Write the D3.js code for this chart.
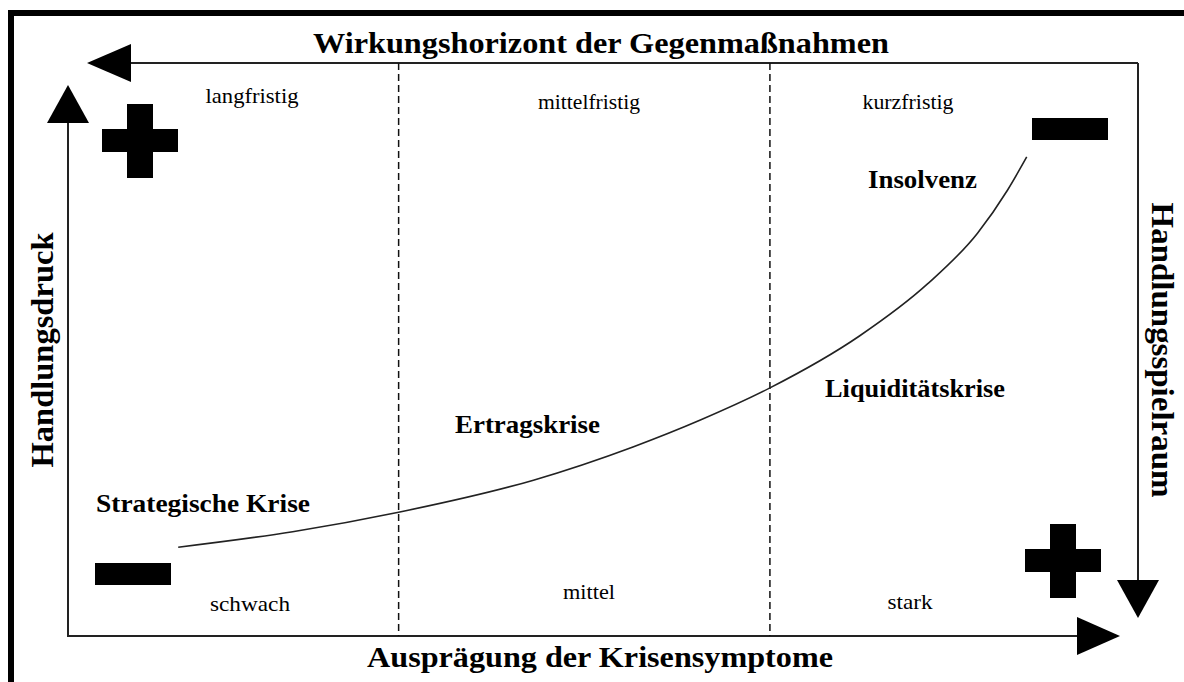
<!DOCTYPE html>
<html>
<head>
<meta charset="utf-8">
<script src="https://cdn.jsdelivr.net/npm/d3@7"></script>
<style>
	body { margin: 0; background: #fff; }
	svg { display: block; }
	text { font-family: "Liberation Serif", "DejaVu Serif", serif; fill: #000; }
	.big { font-weight: bold; }
</style>
</head>
<body>
<svg id="plot" width="1184" height="682"></svg>
<script>

// Krisenverlauf: Ausprägung der Krisensymptome (x) vs. Handlungsdruck (y), 0..100
const CURVE_X = [10.3, 21.0, 30.9, 43.5, 52.8, 59.1, 65.6, 74.0, 80.3, 85.0, 87.8, 89.6];
const CURVE_Y = [15.5, 18.2, 21.6, 27.2, 33.0, 37.7, 43.3, 52.4, 61.4, 70.3, 77.8, 83.6];

// boundaries between the three columns
const ZONE_BOUNDS = [30.9, 65.6];

const HORIZON_LABELS = ['langfristig', 'mittelfristig', 'kurzfristig'];
const SYMPTOM_LABELS = ['schwach', 'mittel', 'stark'];
const PHASES = ['Strategische Krise', 'Ertragskrise', 'Liquiditätskrise', 'Insolvenz'];

const TITLE_TOP = 'Wirkungshorizont der Gegenmaßnahmen';
const TITLE_BOTTOM = 'Ausprägung der Krisensymptome';
const TITLE_LEFT = 'Handlungsdruck';
const TITLE_RIGHT = 'Handlungsspielraum';

const svg = d3.select('#plot');

const x = d3.scaleLinear().domain([0, 100]).range([68, 1138]);
const y = d3.scaleLinear().domain([0, 100]).range([636, 63]);

// outer frame (only top and left visible)
svg.append('rect')
	.attr('x', 11).attr('y', 13)
	.attr('width', 1300).attr('height', 800)
	.attr('fill', 'none')
	.attr('stroke', '#000')
	.attr('stroke-width', 6);

const lines = svg.append('g')
	.attr('stroke', '#222')
	.attr('stroke-width', 2)
	.attr('fill', 'none');

// top axis: from the right corner leftwards, then down the right side
lines.append('path')
	.attr('d', `M${x(100)},${y(100)} H131 M${x(100)},${y(100)} V580`);
// left axis and bottom axis
lines.append('path')
	.attr('d', `M${x(0)},123 V${y(0)} H1077`);

// arrow heads
const heads = [
	[[87, y(100)], [131, y(100) - 19], [131, y(100) + 19]],   // left
	[[x(100), 618], [x(100) - 21, 580], [x(100) + 21, 580]], // down
	[[x(0), 85], [x(0) - 21, 123], [x(0) + 21, 123]],         // up
	[[1120, y(0)], [1077, y(0) - 19], [1077, y(0) + 19]]      // right
];
svg.append('g').selectAll('path')
	.data(heads)
	.enter()
	.append('path')
		.attr('d', d => 'M' + d.join('L') + 'Z')
		.attr('fill', '#000');

// dashed zone separators
svg.append('g').selectAll('line')
	.data(ZONE_BOUNDS)
	.enter()
	.append('line')
		.attr('x1', d => x(d)).attr('x2', d => x(d))
		.attr('y1', y(100)).attr('y2', y(0))
		.attr('stroke', '#111')
		.attr('stroke-width', 1.5)
		.attr('stroke-dasharray', '7,4');

// crisis curve
const curve = CURVE_X.map((v, i) => ({ x: v, y: CURVE_Y[i] }));
svg.append('path')
	.datum(curve)
	.attr('d', d3.line().x(d => x(d.x)).y(d => y(d.y)).curve(d3.curveMonotoneX))
	.attr('fill', 'none')
	.attr('stroke', '#222')
	.attr('stroke-width', 1.6);

// plus / minus signs
function plus(cx, cy) {
	const g = svg.append('g').attr('fill', '#000');
	g.append('rect').attr('x', cx - 13).attr('y', cy - 37).attr('width', 26).attr('height', 74);
	g.append('rect').attr('x', cx - 38).attr('y', cy - 12).attr('width', 76).attr('height', 23);
}
function minus(cx, cy) {
	svg.append('rect').attr('x', cx - 38).attr('y', cy - 11)
		.attr('width', 76).attr('height', 22).attr('fill', '#000');
}
plus(140, 141);
plus(1063, 561);
minus(1070, 129);
minus(133, 574);

// small labels
const small = svg.append('g').attr('font-size', 22).attr('text-anchor', 'middle');
const horizonPos = [[252, 103], [589, 109], [908, 109]];
const symptomPos = [[250, 611], [589, 599], [910, 609]];
const horizonW = [93, 102, 91];
const symptomW = [80, 52, 45];
HORIZON_LABELS.forEach((t, i) => {
	small.append('text').text(t)
		.attr('x', horizonPos[i][0]).attr('y', horizonPos[i][1])
		.attr('textLength', horizonW[i]).attr('lengthAdjust', 'spacingAndGlyphs');
});
SYMPTOM_LABELS.forEach((t, i) => {
	small.append('text').text(t)
		.attr('x', symptomPos[i][0]).attr('y', symptomPos[i][1])
		.attr('textLength', symptomW[i]).attr('lengthAdjust', 'spacingAndGlyphs');
});

// crisis phase labels
const phasePos = [[96, 512], [455, 433], [825, 397], [868, 188]];
const phaseW = [214, 145, 180, 109];
svg.append('g').selectAll('text')
	.data(PHASES)
	.enter()
	.append('text')
		.classed('big', true)
		.attr('font-size', 26)
		.text(d => d)
		.attr('x', (d, i) => phasePos[i][0])
		.attr('y', (d, i) => phasePos[i][1])
		.attr('textLength', (d, i) => phaseW[i])
		.attr('lengthAdjust', 'spacingAndGlyphs');

// axis titles
svg.append('text').classed('big', true)
	.attr('font-size', 30).attr('text-anchor', 'middle')
	.attr('x', 601).attr('y', 53)
	.attr('textLength', 576).attr('lengthAdjust', 'spacingAndGlyphs')
	.text(TITLE_TOP);

svg.append('text').classed('big', true)
	.attr('font-size', 30).attr('text-anchor', 'middle')
	.attr('x', 600).attr('y', 667)
	.attr('textLength', 466).attr('lengthAdjust', 'spacingAndGlyphs')
	.text(TITLE_BOTTOM);

svg.append('text').classed('big', true)
	.attr('font-size', 32).attr('text-anchor', 'middle')
	.attr('transform', 'translate(53,350) rotate(-90)')
	.attr('textLength', 235).attr('lengthAdjust', 'spacingAndGlyphs')
	.text(TITLE_LEFT);

svg.append('text').classed('big', true)
	.attr('font-size', 32).attr('text-anchor', 'middle')
	.attr('transform', 'translate(1152,350) rotate(90)')
	.attr('textLength', 295).attr('lengthAdjust', 'spacingAndGlyphs')
	.text(TITLE_RIGHT);

</script>
</body>
</html>
